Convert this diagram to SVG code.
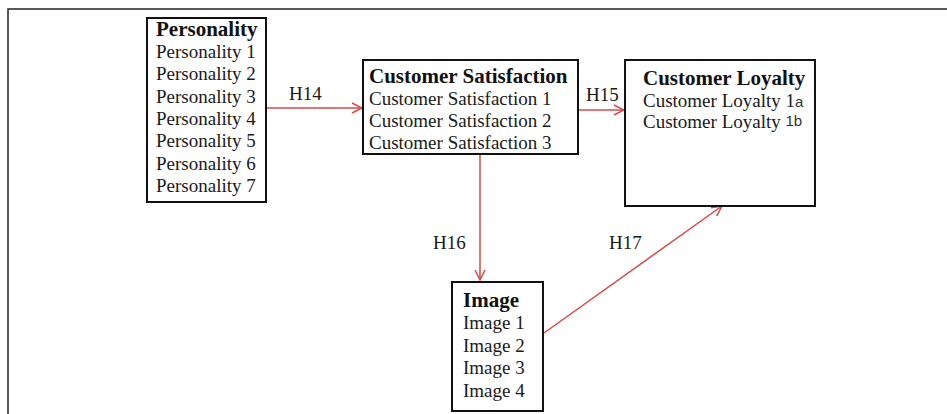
<svg xmlns="http://www.w3.org/2000/svg" width="947" height="414" viewBox="0 0 947 414">
<style>
.box{fill:#fff;stroke:#111;stroke-width:2}
.t{font-family:"Liberation Serif","Times New Roman",serif;font-size:19px;fill:#1a1a1a}
.h{font-family:"Liberation Serif","Times New Roman",serif;font-size:21px;font-weight:bold;fill:#111}
.s{font-family:"Liberation Sans",Arial,sans-serif;font-size:15px;fill:#333}
.c{stroke:#d44a4a;stroke-width:1.5;fill:none}
.frame{stroke:#222;stroke-width:1.5;fill:none}
</style>
<defs>
<marker id="ah" viewBox="0 0 12 12" refX="11" refY="6" markerWidth="12" markerHeight="12" markerUnits="userSpaceOnUse" orient="auto">
<path d="M1,1 L11,6 L1,11" fill="none" stroke="#d44a4a" stroke-width="1.5"/>
</marker>
</defs>
<rect width="947" height="414" fill="#fff"/>
<path class="frame" d="M8,414 L8,9 L947,9"/>
<g id="connectors">
<line class="c" x1="267" y1="108" x2="362" y2="108" marker-end="url(#ah)"/>
<text class="t" x="289" y="100">H14</text>
<line class="c" x1="579" y1="110" x2="624" y2="110" marker-end="url(#ah)"/>
<text class="t" x="586" y="101">H15</text>
<line class="c" x1="480" y1="155" x2="480" y2="280" marker-end="url(#ah)"/>
<text class="t" x="433" y="249">H16</text>
<line class="c" x1="544" y1="333" x2="722" y2="206" marker-end="url(#ah)"/>
<text class="t" x="609" y="249">H17</text>
</g>
<g id="personality">
<rect class="box" x="147" y="18" width="119" height="184"/>
<text class="h" x="156" y="36">Personality</text>
<text class="t" x="156" y="58">Personality 1</text>
<text class="t" x="156" y="80">Personality 2</text>
<text class="t" x="156" y="103">Personality 3</text>
<text class="t" x="156" y="125">Personality 4</text>
<text class="t" x="156" y="147">Personality 5</text>
<text class="t" x="156" y="170">Personality 6</text>
<text class="t" x="156" y="192">Personality 7</text>
</g>
<g id="customer-satisfaction">
<rect class="box" x="363" y="60" width="215" height="94"/>
<text class="h" x="369" y="83">Customer Satisfaction</text>
<text class="t" x="369" y="105">Customer Satisfaction 1</text>
<text class="t" x="369" y="127">Customer Satisfaction 2</text>
<text class="t" x="369" y="149">Customer Satisfaction 3</text>
</g>
<g id="customer-loyalty">
<rect class="box" x="625" y="60" width="190" height="146"/>
<text class="h" x="643" y="85">Customer Loyalty</text>
<text class="t" x="643" y="107">Customer Loyalty 1<tspan class="s">a</tspan></text>
<text class="t" x="643" y="128">Customer Loyalty <tspan class="s" dy="-2">1b</tspan></text>
</g>
<g id="image">
<rect class="box" x="452" y="282" width="91" height="129"/>
<text class="h" x="463" y="307">Image</text>
<text class="t" x="463" y="329">Image 1</text>
<text class="t" x="463" y="352">Image 2</text>
<text class="t" x="463" y="374">Image 3</text>
<text class="t" x="463" y="397">Image 4</text>
</g>
</svg>
